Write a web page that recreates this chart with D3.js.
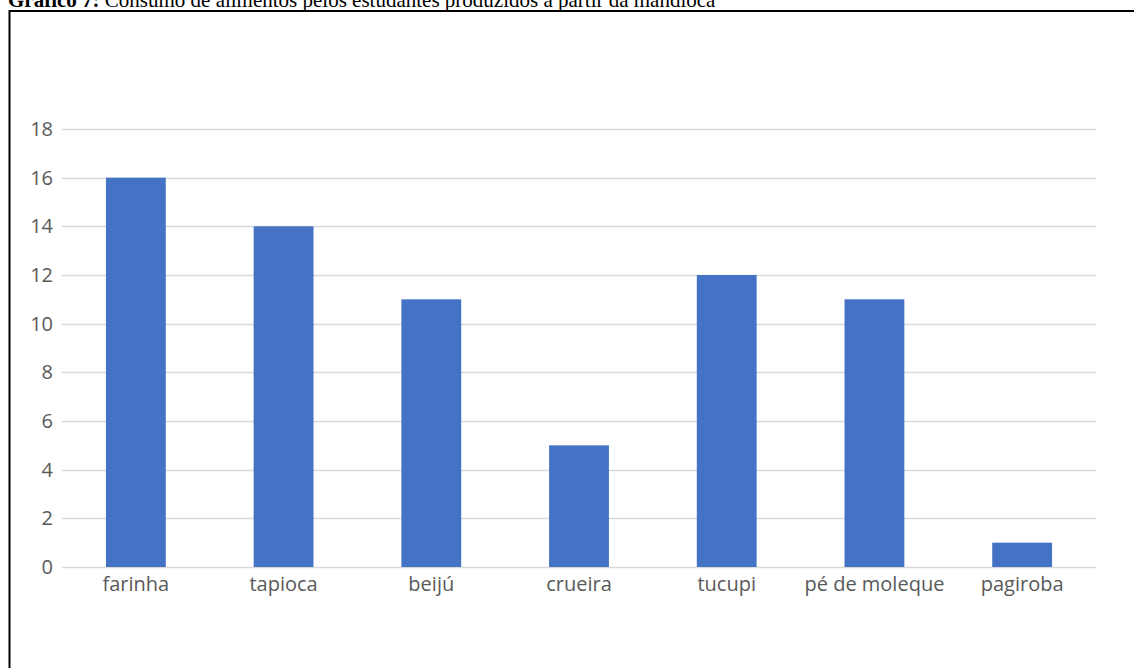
<!DOCTYPE html>
<html>
<head>
<meta charset="utf-8">
<script src="https://cdn.jsdelivr.net/npm/d3@7"></script>
<style>
  body { margin: 0; background: #fff; }
</style>
</head>
<body>
<div id="chart"></div>
<script>
const categories = ['farinha', 'tapioca', 'beijú', 'crueira', 'tucupi', 'pé de moleque', 'pagiroba']
const values = [16, 14, 11, 5, 12, 11, 1]
const yTicks = [0, 2, 4, 6, 8, 10, 12, 14, 16, 18]
const titleBold = 'Gráfico 7:'
const titleRest = ' Consumo de alimentos pelos estudantes produzidos a partir da mandioca'

const width = 1134, height = 668
const margin = {top: 129, right: 38, bottom: 101, left: 62}
const labelFont = '"Open Sans", sans-serif'
const labelSize = 20
const labelColor = '#595959'

const svg = d3.select('#chart').append('svg')
  .attr('width', width)
  .attr('height', height)

// title (cut off at the top like the source page)
const title = svg.append('text')
  .attr('x', 8)
  .attr('y', 7)
  .attr('font-family', '"Liberation Serif", "Times New Roman", serif')
  .attr('font-size', 21)
  .attr('fill', '#000')
title.append('tspan').attr('font-weight', 'bold').text(titleBold)
title.append('tspan').text(titleRest)

// frame
svg.append('rect')
  .attr('x', 9.5)
  .attr('y', 11)
  .attr('width', width + 20)
  .attr('height', height + 20)
  .attr('fill', 'none')
  .attr('stroke', '#000')
  .attr('stroke-width', 2)

const x = d3.scaleBand()
  .domain(categories)
  .range([margin.left, width - margin.right])
  .paddingInner(0.595)
  .paddingOuter(0.2975)

const y = d3.scaleLinear()
  .domain([0, 18])
  .range([height - margin.bottom, margin.top])

// gridlines
svg.append('g').selectAll('line')
  .data(yTicks)
  .join('line')
  .attr('x1', margin.left)
  .attr('x2', width - margin.right)
  .attr('y1', d => Math.round(y(d)) + 0.5)
  .attr('y2', d => Math.round(y(d)) + 0.5)
  .attr('stroke', '#d9d9d9')
  .attr('stroke-width', 1.5)

// bars
svg.append('g').selectAll('rect')
  .data(values)
  .join('rect')
  .attr('x', (d, i) => x(categories[i]))
  .attr('width', x.bandwidth())
  .attr('y', d => y(d))
  .attr('height', d => y(0) - y(d))
  .attr('fill', '#4472c4')

// y axis
const axisY = d3.axisLeft(y).tickValues(yTicks).tickSize(0).tickPadding(9)
svg.append('g')
  .attr('transform', `translate(${margin.left},0)`)
  .call(axisY)
  .call(g => g.select('.domain').remove())
  .call(g => g.selectAll('text')
    .attr('font-family', labelFont)
    .attr('font-size', labelSize)
    .attr('fill', labelColor))

// x axis
const axisX = d3.axisBottom(x).tickSize(0).tickPadding(10)
svg.append('g')
  .attr('transform', `translate(0,${height - margin.bottom})`)
  .call(axisX)
  .call(g => g.select('.domain').remove())
  .call(g => g.selectAll('text')
    .attr('font-family', labelFont)
    .attr('font-size', labelSize)
    .attr('fill', labelColor))
</script>
</body>
</html>
